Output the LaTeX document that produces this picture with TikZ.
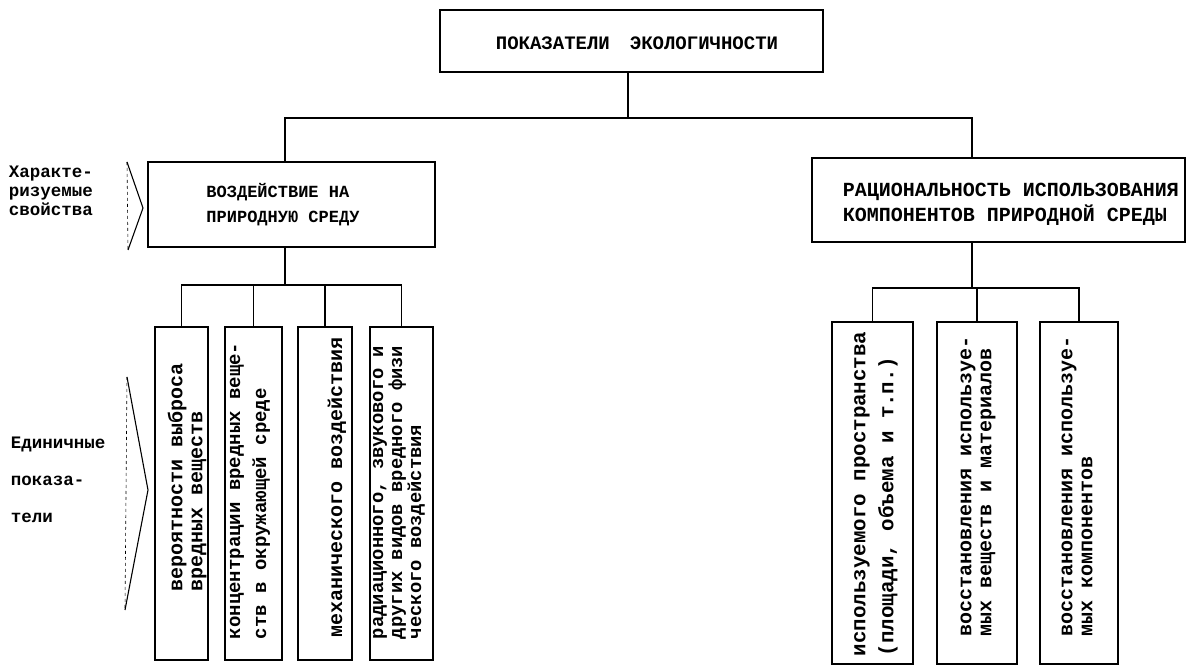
\documentclass[tikz,border=0pt]{standalone}
\usepackage{fontspec}
\setmainfont{Liberation Mono}
\usetikzlibrary{calc}
\begin{document}
\begin{tikzpicture}[x=1pt,y=-1pt, line width=1.8pt,
  every node/.style={font=\bfseries},
  box/.style={draw, rectangle, inner sep=0pt},
  vtext/.style={rotate=90, anchor=west, inner sep=0pt, align=left},
  chev/.style={line width=1.1pt},
  chevside/.style={line width=0.6pt, dashed}
]
\useasboundingbox (0,0) rectangle (1191,668);

% top
\node[box, minimum width=383pt, minimum height=62pt] (top) at (631.5,41) {};
\node[inner sep=0pt, font=\fontsize{19}{19}\selectfont\bfseries] (toptxt) at (637,43) {ПОКАЗАТЕЛИ\hspace{20pt}ЭКОЛОГИЧНОСТИ};

% level 2
\node[box, minimum width=287pt, minimum height=85pt] (L) at (291.5,204.5) {};
\node[align=left, inner sep=0pt, font=\fontsize{17}{25}\selectfont\bfseries] (Lt) at (283,205) {ВОЗДЕЙСТВИЕ НА\\ПРИРОДНУЮ СРЕДУ};
\node[box, minimum width=373pt, minimum height=84pt] (R) at (998.5,200) {};
\node[align=left, inner sep=0pt, anchor=west, font=\fontsize{20}{25}\selectfont\bfseries] (Rt) at (842,204) {РАЦИОНАЛЬНОСТЬ ИСПОЛЬЗОВАНИЯ\\КОМПОНЕНТОВ ПРИРОДНОЙ СРЕДЫ};

% junctions
\coordinate (j0) at (628,118);
\coordinate (jl) at (285,118);
\coordinate (jr) at (972,118);
\coordinate (jl2) at (285,285);
\coordinate (jr2) at (972,288);

\draw (j0 |- top.south) -- (j0);
\draw (jl |- L.north) -- (jl) -- (jr) -- (jr |- R.north);

% left leaves
\node[box, minimum width=53pt, minimum height=333pt] (b1) at (181.5,493.5) {};
\node[box, minimum width=57pt, minimum height=333pt] (b2) at (253.5,493.5) {};
\node[box, minimum width=54pt, minimum height=333pt] (b3) at (325,493.5) {};
\node[box, minimum width=63pt, minimum height=333pt] (b4) at (401.5,493.5) {};

\node[vtext, font=\fontsize{20}{20}\selectfont\bfseries] (t1) at (187,592) {вероятности выброса\\вредных веществ};
\node[vtext, font=\fontsize{19}{26}\selectfont\bfseries] (t2) at (250,640) {концентрации вредных веще-\\ств в окружающей среде};
\node[vtext, font=\fontsize{20}{20}\selectfont\bfseries] (t3) at (337,638) {механического воздействия};
\node[vtext, font=\fontsize{18.8}{19}\selectfont\bfseries] (t4) at (399,640) {радиационного, звукового и\\других видов вредного физи\\ческого воздействия};

\draw (jl2 |- L.south) -- (jl2);
\draw (b1.north) -- (b1.north |- jl2) -- (b4.north |- jl2) -- (b4.north);
\draw (b2.north) -- (b2.north |- jl2);
\draw (b3.north) -- (b3.north |- jl2);

% right leaves
\node[box, minimum width=81pt, minimum height=342pt] (b5) at (872.5,493) {};
\node[box, minimum width=80pt, minimum height=342pt] (b6) at (977,493) {};
\node[box, minimum width=78pt, minimum height=342pt] (b7) at (1079,493) {};

\node[vtext, font=\fontsize{20.8}{28}\selectfont\bfseries] (t5) at (876,657) {используемого пространства\\(площади, объема и т.п.)};
\node[vtext, font=\fontsize{20}{20}\selectfont\bfseries] (t6) at (978,637) {восстановления используе-\\мых веществ и материалов};
\node[vtext, font=\fontsize{20}{20}\selectfont\bfseries] (t7) at (1077,637) {восстановления используе-\\мых компонентов};

\draw (jr2 |- R.south) -- (jr2);
\draw (b5.north) -- (b5.north |- jr2) -- (b7.north |- jr2) -- (b7.north);
\draw (b6.north) -- (b6.north |- jr2);

% side labels and chevrons
\node[anchor=west, align=left, inner sep=0pt, font=\fontsize{17.5}{19}\selectfont\bfseries] (lab1) at (8,191) {Характе-\\ризуемые\\свойства};
\node[anchor=west, align=left, inner sep=0pt, font=\fontsize{17.5}{37}\selectfont\bfseries] (lab2) at (10,480) {Единичные\\показа-\\тели};

\draw[chev] (127,162) -- (143,208) -- (128,250);
\draw[chevside] (127,162) -- (128,250);
\draw[chev] (127,377) -- (148,490) -- (125,610);
\draw[chevside] (127,377) -- (125,610);
\end{tikzpicture}
\end{document}
